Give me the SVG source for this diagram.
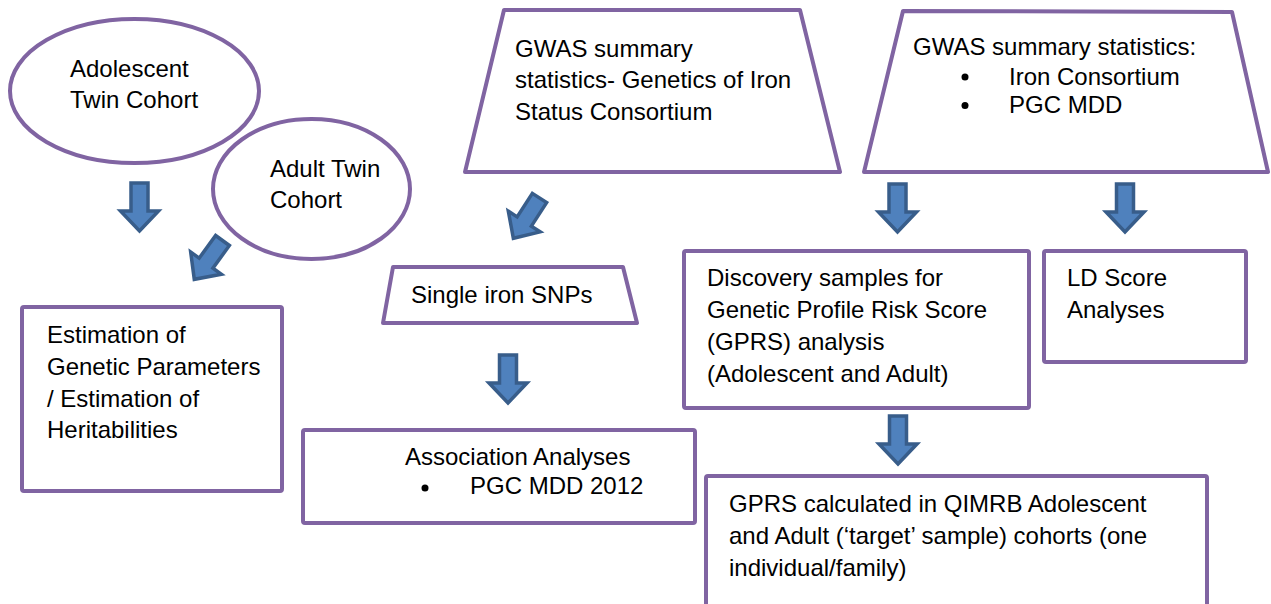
<svg xmlns="http://www.w3.org/2000/svg" width="1271" height="604" viewBox="0 0 1271 604">
<style>
.shape{fill:#ffffff;stroke:#8064a2;stroke-width:4;stroke-linejoin:round}
.t{font-family:"Liberation Sans",Arial,sans-serif;font-size:24px;fill:#000000}
.arrow{fill:#4f81bd;stroke:#385d8a;stroke-width:3.5;stroke-linejoin:miter}
</style>
<defs>
<path id="dn" d="M-8.5,0 L8.5,0 L8.5,28 L19,28 L0,48 L-19,28 L-8.5,28 Z"/>
</defs>
<rect width="1271" height="604" fill="#ffffff"/>

<g id="adolescent">
<ellipse class="shape" cx="134.5" cy="91" rx="124.5" ry="72"/>
<text class="t" x="70" y="77">Adolescent</text>
<text class="t" x="70" y="108">Twin Cohort</text>
</g>

<g id="adult">
<ellipse class="shape" cx="311.5" cy="189" rx="98.5" ry="70"/>
<text class="t" x="270" y="177">Adult Twin</text>
<text class="t" x="270" y="208">Cohort</text>
</g>

<g id="gwas-iron">
<polygon class="shape" points="504,10 800,10 840,172 465,172"/>
<text class="t" x="515" y="57">GWAS summary</text>
<text class="t" x="515" y="88">statistics- Genetics of Iron</text>
<text class="t" x="515" y="120">Status Consortium</text>
</g>

<g id="gwas-both">
<polygon class="shape" points="903,11 1232,12 1268,172 864,172"/>
<text class="t" x="913" y="55">GWAS summary statistics:</text>
<circle cx="965" cy="77" r="3.5" fill="#000"/>
<text class="t" x="1009" y="85">Iron Consortium</text>
<circle cx="965" cy="105.5" r="3.5" fill="#000"/>
<text class="t" x="1009" y="113">PGC MDD</text>
</g>

<g id="estimation">
<rect class="shape" x="22" y="307" width="260" height="184" rx="2"/>
<text class="t" x="47" y="343">Estimation of</text>
<text class="t" x="47" y="375">Genetic Parameters</text>
<text class="t" x="47" y="407">/ Estimation of</text>
<text class="t" x="47" y="438">Heritabilities</text>
</g>

<g id="snps">
<polygon class="shape" points="393,267 623,267 637,323 383,323"/>
<text class="t" x="411" y="303">Single iron SNPs</text>
</g>

<g id="association">
<rect class="shape" x="303" y="430" width="392" height="93" rx="2"/>
<text class="t" x="405" y="465">Association Analyses</text>
<circle cx="425" cy="488" r="3.5" fill="#000"/>
<text class="t" x="470" y="494">PGC MDD 2012</text>
</g>

<g id="discovery">
<rect class="shape" x="684" y="251" width="345" height="157" rx="2"/>
<text class="t" x="707" y="286">Discovery samples for</text>
<text class="t" x="707" y="318">Genetic Profile Risk Score</text>
<text class="t" x="707" y="350">(GPRS) analysis</text>
<text class="t" x="707" y="382">(Adolescent and Adult)</text>
</g>

<g id="ldscore">
<rect class="shape" x="1044" y="251" width="202" height="111" rx="2"/>
<text class="t" x="1067" y="286">LD Score</text>
<text class="t" x="1067" y="318">Analyses</text>
</g>

<g id="gprs">
<rect class="shape" x="706" y="476" width="501" height="150" rx="2"/>
<text class="t" x="729" y="512">GPRS calculated in QIMRB Adolescent</text>
<text class="t" x="729" y="544">and Adult (‘target’ sample) cohorts (one</text>
<text class="t" x="729" y="576">individual/family)</text>
</g>

<g id="connectors">
<use href="#dn" class="arrow" transform="translate(139.5,183)"/>
<use href="#dn" class="arrow" transform="translate(222.5,240.5) rotate(36)"/>
<use href="#dn" class="arrow" transform="translate(539.5,198) rotate(33)"/>
<use href="#dn" class="arrow" transform="translate(508,355)"/>
<use href="#dn" class="arrow" transform="translate(897.5,184)"/>
<use href="#dn" class="arrow" transform="translate(1125,184)"/>
<use href="#dn" class="arrow" transform="translate(898,416)"/>
</g>
</svg>
